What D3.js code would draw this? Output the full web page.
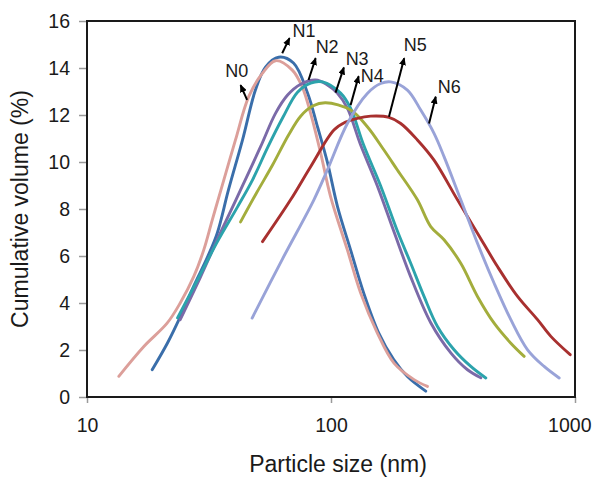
<!DOCTYPE html>
<meta charset="utf-8">
<style>

body {
  margin: 0;
  background: #fff;
}

text {
  font-family: "Liberation Sans", Arial, sans-serif;
  fill: #1a1a1a;
}

.axis text {
  font-size: 19.5px;
}

.axis line {
  stroke: #9a9a9a;
  stroke-width: 1.5px;
}

.axis path {
  display: none;
}

.curve {
  fill: none;
  stroke-width: 2.9px;
  stroke-linejoin: round;
  stroke-linecap: round;
}

.label {
  font-size: 18px;
}

.arrow {
  stroke: #000;
  stroke-width: 2px;
}

.title {
  font-size: 23px;
}

</style>
<svg width="594" height="477"></svg>
<script src="https://d3js.org/d3.v7.min.js"></script>
<script>

// [particle size (nm), cumulative volume (%)]
var n0 = [[13.5,0.88],[17.1,2.15],[21.3,3.14],[24.1,4.0],[27.4,5.13],[30.1,6.26],[32.6,7.53],[35.4,8.81],[40.6,10.94],[46.0,12.78],[52.3,13.77],[59.3,14.31],[69.4,13.91],[76.2,13.2],[82.5,12.07],[90.7,10.38],[99.6,8.53],[116.7,6.26],[132.3,4.42],[154.9,2.72],[181.2,1.44],[218.9,0.74],[248.5,0.45]];
var n1 = [[18.5,1.16],[21.4,2.31],[24.1,3.41],[27.3,4.69],[31.2,5.96],[34.2,6.98],[38.0,8.81],[43.4,10.94],[49.0,13.06],[53.9,14.04],[61.0,14.46],[70.2,14.21],[80.2,12.93],[88.1,11.49],[96.8,9.96],[106.4,8.09],[120.3,6.26],[136.1,4.43],[156.8,2.73],[180.7,1.59],[206.2,0.86],[244.5,0.25]];
var n2 = [[24.1,3.29],[29.2,5.11],[35.2,6.98],[42.6,8.81],[51.4,10.64],[59.3,12.08],[66.4,12.85],[75.1,13.31],[86.5,13.49],[96.0,13.3],[106.1,12.93],[116.7,12.29],[132.3,10.72],[154.9,8.98],[181.2,7.03],[212.2,5.11],[256.3,3.16],[309.7,1.88],[362.6,1.16],[411.1,0.82]];
var n3 = [[23.5,3.37],[28.4,4.99],[34.2,6.6],[41.4,8.09],[47.7,9.24],[54.9,10.6],[63.3,11.87],[72.9,12.97],[82.5,13.36],[92.4,13.41],[109.5,12.93],[120.3,12.29],[136.1,10.72],[159.8,8.98],[187.6,7.03],[212.2,5.69],[240.6,4.28],[273.1,3.0],[319.4,2.01],[374.1,1.3],[430.9,0.81]];
var n4 = [[42.6,7.45],[49.5,8.68],[57.6,9.87],[67.0,11.15],[75.1,11.95],[84.1,12.38],[95.0,12.52],[120.3,12.21],[140.9,11.5],[164.8,10.51],[187.1,9.66],[226.0,8.39],[256.3,7.25],[290.6,6.69],[340.3,5.69],[398.4,4.28],[466.2,3.14],[545.8,2.29],[618.9,1.73]];
var n5 = [[52.4,6.61],[68.3,8.39],[82.5,9.8],[102.8,11.36],[114.8,11.7],[128.2,11.86],[145.4,11.95],[172.8,11.9],[193.1,11.64],[226.0,10.94],[264.4,10.08],[329.9,8.39],[398.4,6.97],[481.2,5.55],[581.4,4.28],[702.2,3.29],[796.2,2.58],[955.6,1.8]];
var n6 = [[47.5,3.36],[63.3,5.88],[85.1,8.39],[96.6,9.66],[116.7,11.64],[140.9,12.92],[159.8,13.34],[175.6,13.41],[205.6,13.06],[233.2,12.21],[264.4,11.22],[290.6,10.23],[340.3,8.39],[398.4,6.54],[466.2,4.84],[545.8,3.29],[639.2,2.01],[747.3,1.3],[861.3,0.81]];

var names = ["N0", "N1", "N2", "N3", "N4", "N5", "N6"];
var series = [n0, n1, n2, n3, n4, n5, n6];
var colors = ["#dc9f9a", "#3a6eaa", "#7b6aa8", "#2ca3ac", "#a3ad3c", "#a8302f", "#99a3d8"];
var drawOrder = [1, 0, 2, 3, 4, 5, 6];

var xTicks = [10, 100, 1000];
var yTicks = [0, 2, 4, 6, 8, 10, 12, 14, 16];

// label callouts, in data units
var arrowTail = [[45.3,12.64],[63.1,14.63],[80.9,13.49],[104.4,12.95],[120.3,12.42],[172.8,11.93],[252.2,11.64]];
var arrowHead = [[42.6,13.27],[67.6,15.27],[86.5,14.42],[112.9,14.02],[129.8,13.65],[199.5,14.42],[268.7,12.78]];
var labelAt = [[36.9,13.61],[69.6,15.31],[86.5,14.63],[114.8,14.12],[132.3,13.4],[198.6,14.72],[273.8,12.93]];

var svg = d3.select("svg"),
    margin = {top: 21, right: 19, bottom: 80, left: 87},
    width = +svg.attr("width") - margin.left - margin.right,
    height = +svg.attr("height") - margin.top - margin.bottom,
    g = svg.append("g").attr("transform", "translate(" + margin.left + "," + margin.top + ")");

var x = d3.scaleLog().domain([10, 1000]).range([0, width]);
var y = d3.scaleLinear().domain([0, 16]).range([height, 0]);

svg.append("defs").append("marker")
    .attr("id", "head")
    .attr("viewBox", "0 0 8 7")
    .attr("refX", 7)
    .attr("refY", 3.5)
    .attr("markerWidth", 8)
    .attr("markerHeight", 7)
    .attr("markerUnits", "userSpaceOnUse")
    .attr("orient", "auto")
  .append("path")
    .attr("d", "M0,0L8,3.5L0,7z")
    .attr("fill", "#000");

g.append("g")
    .attr("class", "axis")
    .call(d3.axisLeft(y).tickValues(yTicks).tickSize(8).tickPadding(9).tickFormat(d3.format("d")));

var xAxis = g.append("g")
    .attr("class", "axis")
    .attr("transform", "translate(0," + height + ")")
    .call(d3.axisBottom(x).tickValues(xTicks).tickSize(6).tickPadding(15).tickFormat(d3.format("d")));

// last label is pulled in so it stays inside the picture
xAxis.selectAll(".tick text")
    .attr("text-anchor", function(d) { return d === 1000 ? "end" : "middle"; })
    .attr("dx", function(d) { return d === 1000 ? 16 : 0; });

var line = d3.line()
    .x(function(d) { return x(d[0]); })
    .y(function(d) { return y(d[1]); })
    .curve(d3.curveCatmullRom.alpha(0.5));

g.selectAll(".curve")
    .data(drawOrder)
    .enter().append("path")
    .attr("class", "curve")
    .attr("stroke", function(i) { return colors[i]; })
    .attr("d", function(i) { return line(series[i]); });

g.append("rect")
    .attr("width", width)
    .attr("height", height)
    .attr("fill", "none")
    .attr("stroke", "#1a1a1a")
    .attr("stroke-width", 2);

g.selectAll(".arrow")
    .data(names)
    .enter().append("line")
    .attr("class", "arrow")
    .attr("x1", function(d, i) { return x(arrowTail[i][0]); })
    .attr("y1", function(d, i) { return y(arrowTail[i][1]); })
    .attr("x2", function(d, i) { return x(arrowHead[i][0]); })
    .attr("y2", function(d, i) { return y(arrowHead[i][1]); })
    .attr("marker-end", "url(#head)");

g.selectAll(".label")
    .data(names)
    .enter().append("text")
    .attr("class", "label")
    .attr("x", function(d, i) { return x(labelAt[i][0]); })
    .attr("y", function(d, i) { return y(labelAt[i][1]); })
    .text(function(d) { return d; });

svg.append("text")
    .attr("class", "title")
    .attr("text-anchor", "middle")
    .attr("x", margin.left + width / 2 + 7)
    .attr("y", 472)
    .text("Particle size (nm)");

svg.append("text")
    .attr("class", "title")
    .attr("text-anchor", "middle")
    .attr("transform", "translate(28," + (margin.top + height / 2) + ") rotate(-90)")
    .text("Cumulative volume (%)");

</script>
